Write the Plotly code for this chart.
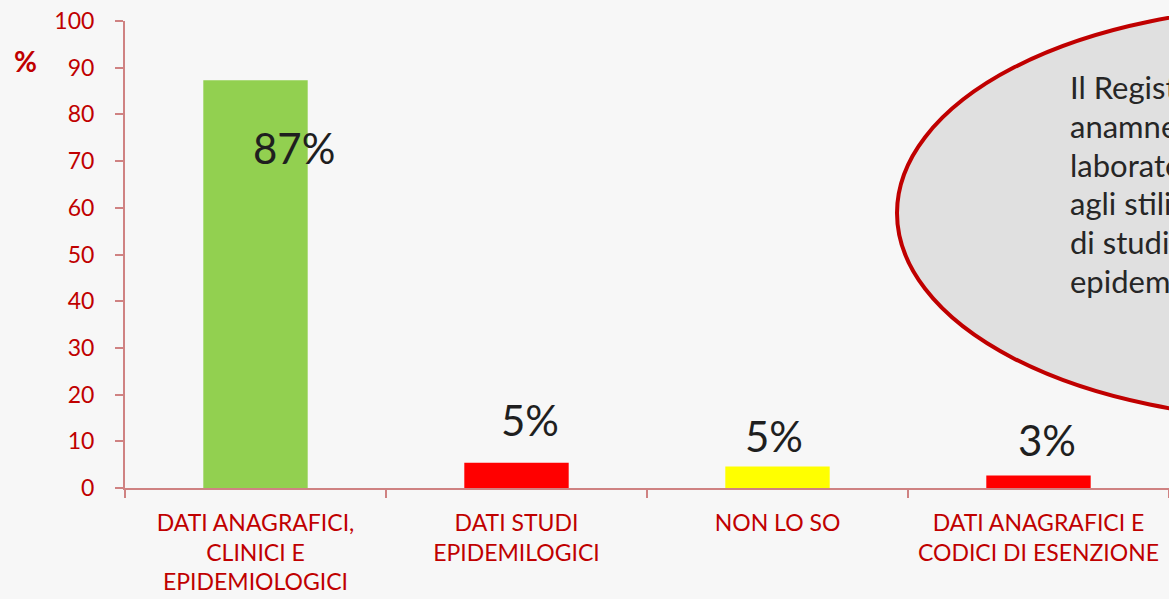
import plotly.graph_objects as go

categories = ["DATI ANAGRAFICI,<br>CLINICI E<br>EPIDEMIOLOGICI",
              "DATI STUDI<br>EPIDEMILOGICI",
              "NON LO SO",
              "DATI ANAGRAFICI E<br>CODICI DI ESENZIONE"]
values = [87.3, 5.4, 4.6, 2.7]
labels = ["87%", "5%", "5%", "3%"]
bar_colors = ["#92d050", "#ff0000", "#ffff00", "#ff0000"]
y_ticks = list(range(0, 101, 10))
ellipse_lines = ["Il Registro raccoglie dati",
                 "anamnestici, clinici, di",
                 "laboratorio e relativi",
                 "agli stili di vita ai fini",
                 "di studi clinici ed",
                 "epidemiologici"]

# label offsets (px) relative to bar top
label_dx = [38, 13, -4, 8]
label_dy = [-68, 43, 31, 35]

BG = "#f7f7f7"
W, H = 1169, 599
L, R, T = 125, 0, 21
ph = 467
B = H - T - ph
pw = W - L - R

def px(x):
    return (x - L) / pw

def py(y):
    return (H - B - y) / ph

FONT = "Lato, 'Open Sans', sans-serif"
RED = "#c00000"
AX = "#cf8282"

fig = go.Figure()
fig.add_trace(go.Bar(x=categories, y=values, marker=dict(color=bar_colors, line=dict(width=0)),
                     width=0.4, hoverinfo="skip"))

annotations = []
for c, v, t, dx, dy in zip(categories, values, labels, label_dx, label_dy):
    annotations.append(dict(x=c, y=v, xref="x", yref="y", text=t, showarrow=False,
                            xshift=dx, yshift=dy, xanchor="center", yanchor="middle",
                            font=dict(family=FONT, size=42, color="#1f1f1f")))

annotations.append(dict(x=px(25), y=py(61), xref="paper", yref="paper", text="<b>%</b>",
                        showarrow=False, xanchor="center", yanchor="middle",
                        font=dict(family=FONT, size=28, color=RED)))

shapes = [dict(type="circle", xref="paper", yref="paper",
               x0=px(897), x1=px(1697), y0=py(419), y1=py(7),
               fillcolor="#e0e0e0", line=dict(color=RED, width=4), layer="above")]

for i, line in enumerate(ellipse_lines):
    annotations.append(dict(x=px(1068), y=py(87 + i * 38.8), xref="paper", yref="paper",
                            text=line, showarrow=False, xanchor="left", yanchor="middle",
                            font=dict(family=FONT, size=31, color="#262626")))

fig.update_layout(
    width=W, height=H,
    margin=dict(l=L, r=R, t=T, b=B, pad=0),
    paper_bgcolor=BG, plot_bgcolor="rgba(0,0,0,0)",
    showlegend=False,
    shapes=shapes,
    annotations=annotations,
    bargap=0.6,
)
fig.update_xaxes(type="category", range=[-0.5, 3.5], showline=True, linecolor=AX, linewidth=2,
                 ticks="outside", tickson="boundaries", ticklen=8, tickcolor=AX, tickwidth=2,
                 showgrid=False, zeroline=False, automargin=False,
                 tickfont=dict(family=FONT, size=23, color=RED), ticklabelstandoff=13)
fig.update_yaxes(range=[0, 100], tickvals=y_ticks, showline=True, linecolor=AX, linewidth=2,
                 ticks="outside", ticklen=8, tickcolor=AX, tickwidth=2,
                 showgrid=False, zeroline=False, automargin=False,
                 tickfont=dict(family=FONT, size=23, color=RED), ticklabelstandoff=16)

fig.write_html("out.html", config={"displayModeBar": False},
               post_script="document.body.style.margin='0';document.body.style.background='%s';"
                           "document.body.style.overflow='hidden';" % BG)
